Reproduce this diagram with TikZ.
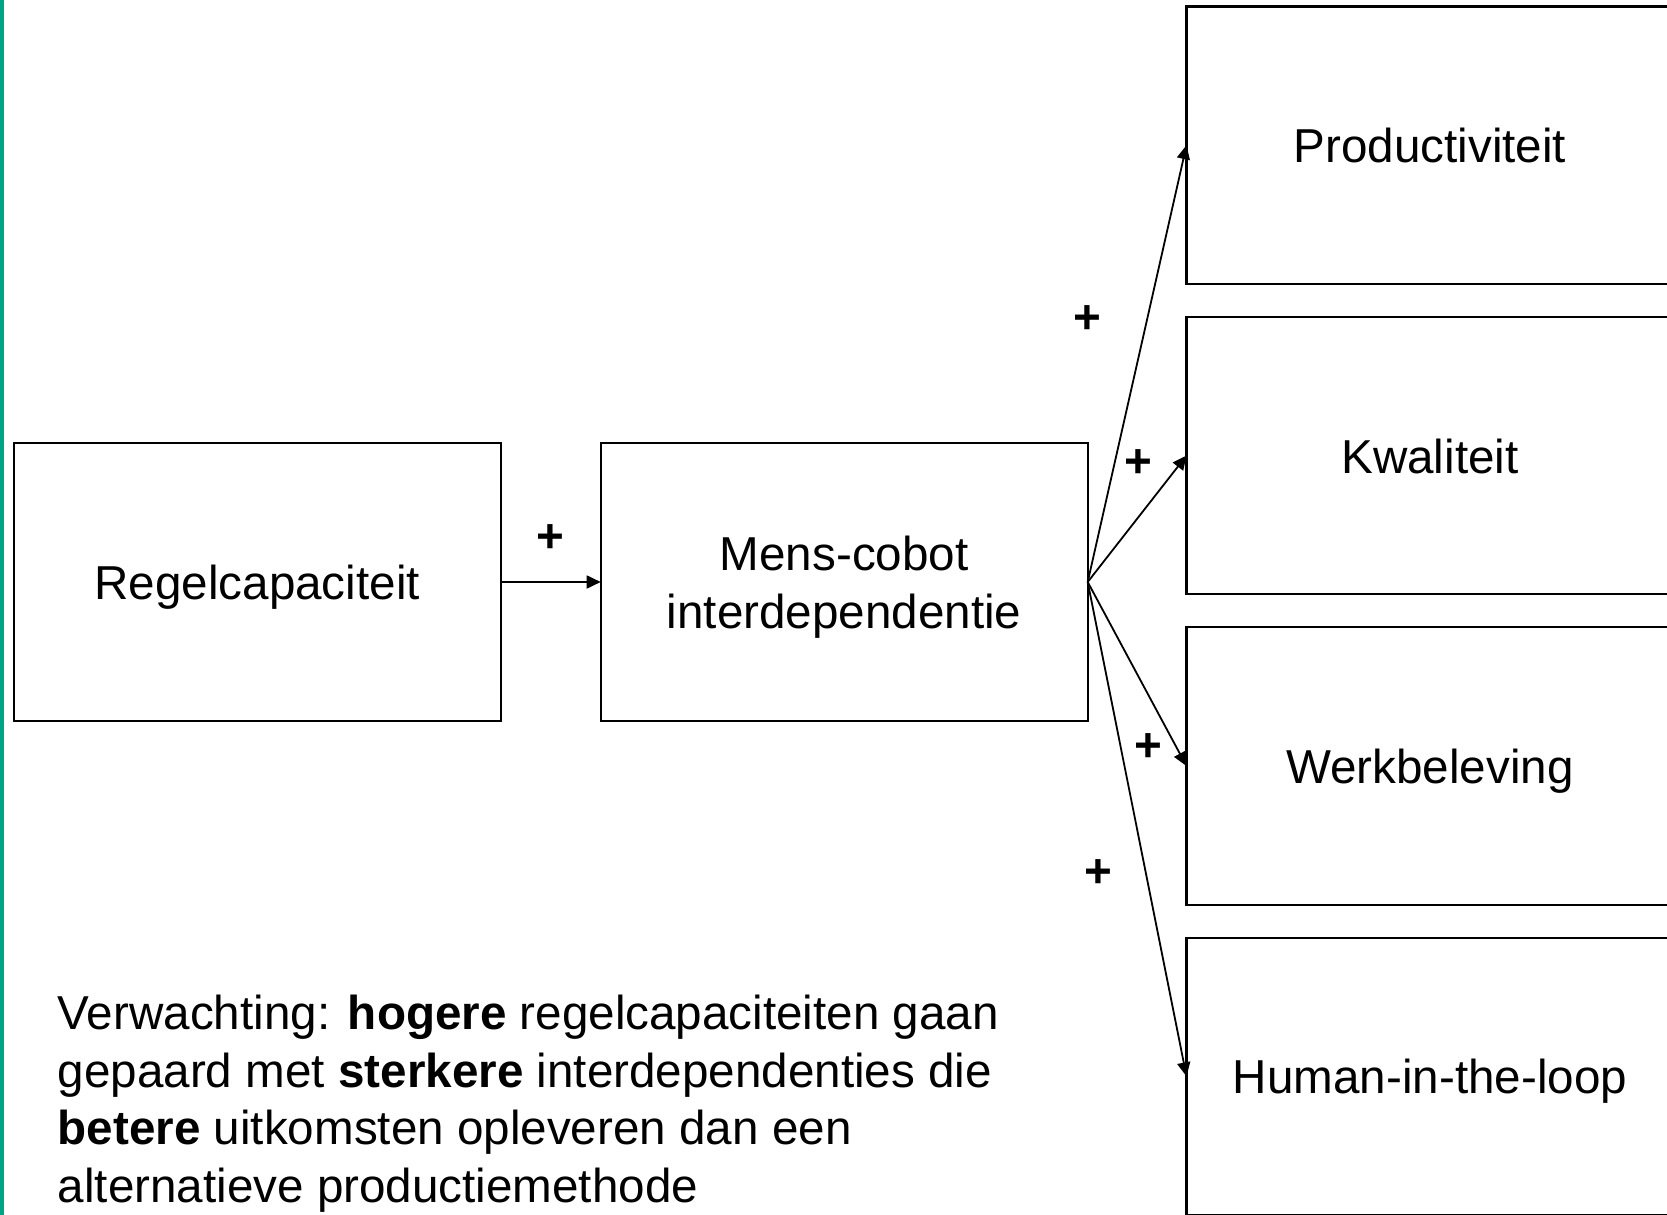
\documentclass[tikz,border=0pt]{standalone}
\usepackage{fontspec}
\setmainfont{Liberation Sans}
\usepackage{xcolor}
\usetikzlibrary{arrows.meta,positioning}
\definecolor{barteal}{RGB}{0,163,131}

\begin{document}
\begin{tikzpicture}[
  font=\fontsize{23.8}{28.7}\selectfont,
  box/.style={rectangle,draw,line width=1.1pt,text centered,
              minimum height=138.7pt,minimum width=243.5pt,inner sep=0pt,outer sep=0pt},
  onebox/.style={box,text height=22.5pt,text depth=5.05pt},
  arr/.style={-{Triangle[length=7pt,width=6.5pt]},line width=0.9pt},
  plus/.style={font=\fontsize{23.8}{28.7}\selectfont\bfseries,inner sep=0pt}
]
\useasboundingbox (0,0) rectangle (833.5pt,-607.5pt);
\clip (0,0) rectangle (833.5pt,-607.5pt);
\fill[barteal] (0,0) rectangle (2.2pt,-607.5pt);

\node[onebox] (regel) at (128.6pt,-291pt) {Regelcapaciteit};
\node[box, right=50pt of regel] (mens)
  {\raisebox{-3.2pt}[\height][\depth]{\begin{tabular}{@{}c@{}}Mens-cobot\\[0.4pt]interdependentie\end{tabular}}};
\node[onebox, right=49.4pt of mens, yshift=218.4pt] (prod) {Productiviteit};
\node[onebox, below=16.5pt of prod] (kwal) {Kwaliteit};
\node[onebox, below=16.5pt of kwal] (werk) {Werkbeleving};
\node[onebox, below=16.5pt of werk] (hitl) {Human-in-the-loop};

\node[anchor=north west,align=left,inner sep=0pt] (note) at (28.7pt,-497.5pt)
  {Verwachting: \textbf{hogere} regelcapaciteiten gaan\\
   gepaard met \textbf{sterkere} interdependenties die\\
   \textbf{betere} uitkomsten opleveren dan een\\
   alternatieve productiemethode};

\draw[arr](regel.east)--(mens.west) node[midway,yshift=21.5pt,plus] (p1) {+};
\draw[arr](mens.east)--(prod.west) node[pos=0.6,xshift=-30pt,plus] (p2) {+};
\draw[arr](mens.east)--(kwal.west) node[pos=0.94,xshift=-21pt,plus] (p3) {+};
\draw[arr](mens.east)--(werk.west) node[pos=0.9,xshift=-14pt,plus] (p4) {+};
\draw[arr](mens.east)--(hitl.west) node[pos=0.59,xshift=-24pt,plus] (p5) {+};
\end{tikzpicture}
\end{document}
